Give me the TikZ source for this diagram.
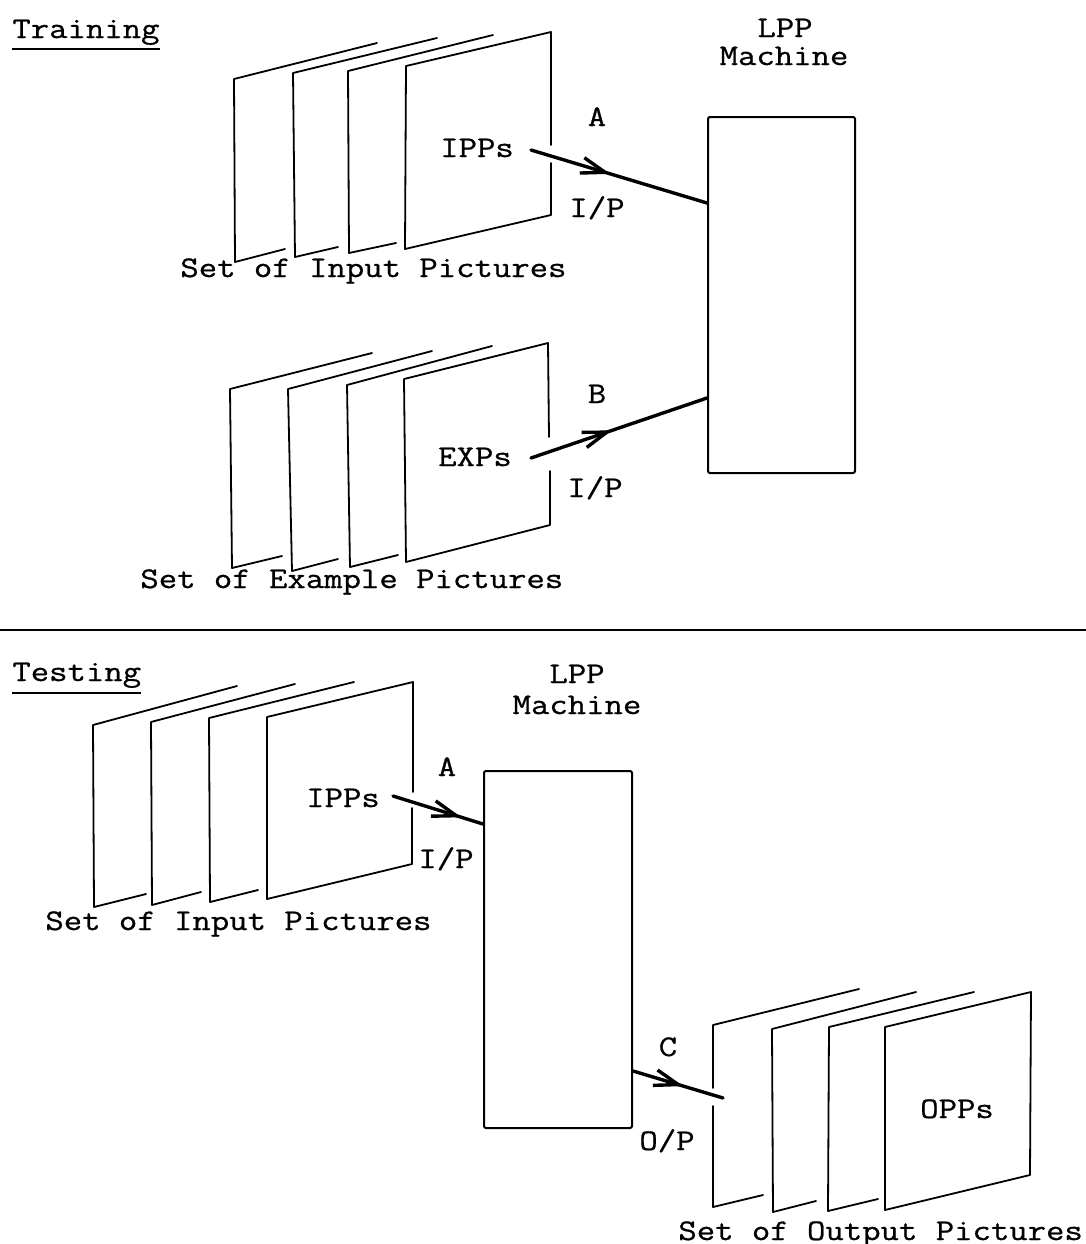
\documentclass[tikz,border=0pt]{standalone}
\usepackage{fontspec}
\setmonofont{Latin Modern Mono}[FakeStretch=1.19,FakeBold=0.8]
\usetikzlibrary{arrows.meta,decorations.markings}

\begin{document}
\begin{tikzpicture}[x=0.5pt,y=-0.5pt,
  txt/.style={font=\ttfamily\fontsize{15pt}{18pt}\selectfont, inner sep=0pt, anchor=base},
  txtl/.style={txt, anchor=base west},
  sheet/.style={line width=0.9pt, line join=round, line cap=round},
  machine/.style={draw, line width=1pt, rounded corners=1pt, inner sep=0pt},
  flow/.style={line width=1.7pt, line cap=round,
    decoration={markings, mark=at position #1 with {\arrow{Straight Barb[length=12pt,width=8pt]}}},
    postaction={decorate}},
  rulestroke/.style={line width=1pt}]

\useasboundingbox (0,0) rectangle (1086,1244);

% ---------------- Training ----------------
\node[txtl] (train) at (12,38) {Training};
\draw[rulestroke] ([yshift=-5.5pt]train.base west) -- ([yshift=-5.5pt]train.base east);

\node[txt] (lpp1) at (785,37) {LPP};
\node[txt] (mach1) at (784,65) {Machine};
\node[machine, minimum width=73.5pt, minimum height=178pt] (m1) at (781.5,295) {};

% stack of input pictures
\draw[sheet] (377,43) -- (234,79) -- (235,262) -- (285,249);
\draw[sheet] (437,38) -- (293,73) -- (295,257) -- (338,247);
\draw[sheet] (493,35) -- (348,71) -- (349,253) -- (396,243);
\draw[sheet] (551,145) -- (551,32) -- (406,66) -- (405,249) -- (551,215) -- (551,163);
\node[txt] (ipp1) at (477,157) {IPPs};
\node[txtl] (setin1) at (180,277) {Set of Input Pictures};

% stack of example pictures
\draw[sheet] (372,353) -- (230,389) -- (232,568) -- (282,556);
\draw[sheet] (432,351) -- (288,389) -- (292,571) -- (338,559);
\draw[sheet] (492,346) -- (347,385) -- (350,567) -- (398,555);
\draw[sheet] (549,437) -- (548,343) -- (404,379) -- (406,562) -- (550,525) -- (550,471);
\node[txt] (exp1) at (475,466) {EXPs};
\node[txtl] (setex) at (140,588) {Set of Example Pictures};

% inputs to the machine
\coordinate (a1s) at (531,150);
\coordinate (b1s) at (531,458);
\draw[flow=0.45] (a1s) -- (m1.west |- 0,203);
\draw[flow=0.46] (b1s) -- (m1.west |- 0,398);
\node[txt] (la1) at (597,126) {A};
\node[txt] (ip1) at (597,217) {I/P};
\node[txt] (lb1) at (597,403) {B};
\node[txt] (ip2) at (595,497) {I/P};

% separator
\draw[rulestroke] (0,630) -- (1086,630);

% ---------------- Testing ----------------
\node[txtl] (test) at (12,681) {Testing};
\draw[rulestroke] ([yshift=-6pt]test.base west) -- ([yshift=-6pt]test.base east);

\node[txt] (lpp2) at (577,683) {LPP};
\node[txt] (mach2) at (577,714) {Machine};
\node[machine, minimum width=74pt, minimum height=178.5pt] (m2) at (558,949.5) {};

% stack of input pictures
\draw[sheet] (237,686) -- (93,725) -- (94,907) -- (146,894);
\draw[sheet] (295,684) -- (151,722) -- (152,905) -- (201,892);
\draw[sheet] (354,682) -- (209,718) -- (210,902) -- (258,890);
\draw[sheet] (413,792) -- (413,682) -- (267,717) -- (267,899) -- (412,864) -- (412,808);
\node[txt] (ipp2) at (343,807) {IPPs};
\node[txtl] (setin2) at (45,930) {Set of Input Pictures};

\coordinate (a2s) at (393,796);
\draw[flow=0.76] (a2s) -- (m2.west |- 0,824);
\node[txt] (la2) at (447,776) {A};
\node[txt] (ip3) at (446,868) {I/P};

% stack of output pictures
\draw[sheet] (713,1088) -- (713,1025) -- (859,989);
\draw[sheet] (713,1106) -- (713,1207) -- (763,1195);
\draw[sheet] (916,992) -- (772,1029) -- (773,1212) -- (816,1201);
\draw[sheet] (974,992) -- (829,1027) -- (828,1211) -- (878,1199);
\draw[sheet] (1031,992) -- (885,1027) -- (885,1210) -- (1030,1175) -- cycle;
\node[txt] (opps) at (957,1118) {OPPs};
\node[txtl] (setout) at (678,1240) {Set of Output Pictures};

\coordinate (c1e) at (723,1098);
\draw[flow=0.56] (m2.east |- 0,1071) -- (c1e);
\node[txt] (lc) at (668,1056) {C};
\node[txt] (op) at (667,1150) {O/P};

\end{tikzpicture}
\end{document}
